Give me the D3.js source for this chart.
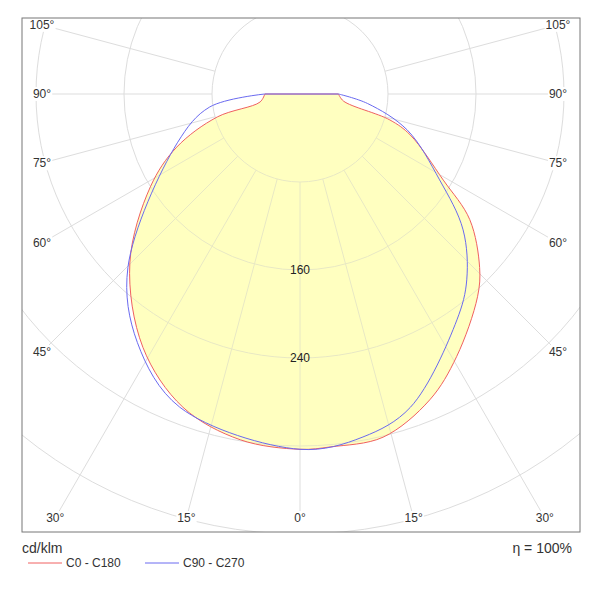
<!DOCTYPE html>
<html><head><meta charset="utf-8">
<script src="https://cdn.jsdelivr.net/npm/d3@7"></script>
<style>body{margin:0;background:#fff;font-family:Arial,"Liberation Sans",sans-serif}</style>
</head><body><svg id="c" width="600" height="600"></svg>
<script>
const redRightAngles=[0,5,13.6,23,30.8,41.2,46,53.5,59,69.6,73.9,80.8,90];
const redRightValues=[323,322,321,302,278,245,227,192,152,107,85,40,35];
const redLeftAngles=[0,9.8,20.5,31.8,45.2,58.2,66.7,74.5,78.7,90];
const redLeftValues=[323,319,304,271,218,160,122,78,37,32];
const blueRightAngles=[0,10.4,19.4,34.8,41.9,50.2,58.4,71.4,82,90];
const blueRightValues=[323,317,302,250,227,193,149,103,62,35];
const blueLeftAngles=[0,21,33.2,44.8,68.3,81.8,90];
const blueLeftValues=[323,305,270,222,120,83,32];
const ringValues=[80,160,240,320,400,480,560,640];
const ringLabels=[160,240];
const spokeAngles=[0,15,30,45,60,75,90,105];
const sideLabels=["105°","90°","75°","60°","45°"];
const bottomLabels=["30°","15°","0°","15°","30°"];

const svg=d3.select("#c");
const cx=300,cy=94,L=22,R=580,T=18,B=532;
const r=d3.scaleLinear().domain([0,80]).range([0,88]);
const pt=(a,v,side)=>{const t=a*Math.PI/180;return [cx+side*r(v)*Math.sin(t),cy+r(v)*Math.cos(t)];};
svg.append("clipPath").attr("id","cl").append("rect").attr("x",L).attr("y",T).attr("width",R-L).attr("height",B-T);
const grid=svg.append("g").attr("clip-path","url(#cl)");
const g=svg.append("g").attr("clip-path","url(#cl)");
const iL=42,iR=558,iB=518;
const labelPos=[];
function drawGrid(sel,col){
  ringValues.forEach(v=>sel.append("circle").attr("cx",cx).attr("cy",cy).attr("r",r(v)).attr("fill","none").attr("stroke",col));
  spokeAngles.forEach(a=>{
    [-1,1].forEach(side=>{
      if(a===0&&side===-1)return;
      const t=a*Math.PI/180,dx=Math.sin(t)*side,dy=Math.cos(t);
      let k=1e9;
      if(Math.abs(dx)>1e-6)k=Math.min(k,((side>0?iR:iL)-cx)/dx);
      if(dy>1e-6)k=Math.min(k,(iB-cy)/dy);
      const x2=cx+k*dx,y2=cy+k*dy,k0=r(80);
      sel.append("line").attr("x1",cx+k0*dx).attr("y1",cy+k0*dy).attr("x2",x2).attr("y2",y2).attr("stroke",col);
      if(col==="#dddddd")labelPos.push({a,x:x2,y:y2});
    });
  });
}
drawGrid(grid,"#dddddd");
function curve(ra,rv,la,lv){
  const pts=[];
  for(let i=la.length-1;i>=0;i--)pts.push(pt(la[i],lv[i],-1));
  for(let i=1;i<ra.length;i++)pts.push(pt(ra[i],rv[i],1));
  return pts;
}
const red=curve(redRightAngles,redRightValues,redLeftAngles,redLeftValues);
const blue=curve(blueRightAngles,blueRightValues,blueLeftAngles,blueLeftValues);
const line=d3.line().curve(d3.curveCatmullRom.alpha(0.5));
const shape=p=>line(p)+"Z";
g.append("path").attr("d",shape(red)).attr("fill","#ffffc0").attr("stroke","none");
const over=g.append("g").attr("clip-path",null);
over.append("clipPath").attr("id","rc").append("path").attr("d",shape(red));
drawGrid(over.append("g").attr("clip-path","url(#rc)"),"#e8e8c4");
g.append("path").attr("d",shape(red)).attr("fill","none").attr("stroke","#f06060").attr("stroke-width",1);
g.append("path").attr("d",shape(blue)).attr("fill","none").attr("stroke","#6a6af0").attr("stroke-width",1);
ringLabels.forEach(v=>svg.append("text").attr("x",cx).attr("y",cy+r(v)+4).attr("text-anchor","middle").attr("font-size",12).attr("fill","#222").text(v));
const lab=(x,y,t)=>{
  const tx=svg.append("text").attr("x",x).attr("y",y+4).attr("text-anchor","middle").attr("font-size",12).attr("fill","#333").text(t);
  const bb=tx.node().getBBox();
  svg.insert("rect","text").attr("x",bb.x-1).attr("y",bb.y).attr("width",bb.width+2).attr("height",bb.height).attr("fill","#fff");
};
labelPos.forEach(p=>{
  let t=null;
  if(p.y<iB-1){const idx=[105,90,75,60,45].indexOf(p.a); if(idx>=0)t=sideLabels[idx];}
  else {const idx=[30,15,0].indexOf(p.a); if(idx>=0)t=bottomLabels[p.x<cx?idx:4-idx];}
  if(t)lab(p.x,p.y,t);
});
svg.append("rect").attr("x",L).attr("y",T).attr("width",R-L).attr("height",B-T).attr("fill","none").attr("stroke","#777");
svg.append("text").attr("x",22).attr("y",553).attr("font-size",14).attr("fill","#333").text("cd/klm");
svg.append("text").attr("x",572).attr("y",553).attr("text-anchor","end").attr("font-size",14).attr("fill","#333").text("η = 100%");
svg.append("line").attr("x1",28).attr("x2",62).attr("y1",563).attr("y2",563).attr("stroke","#f06060");
svg.append("text").attr("x",66).attr("y",567).attr("font-size",12).attr("fill","#333").text("C0 - C180");
svg.append("line").attr("x1",145).attr("x2",179).attr("y1",563).attr("y2",563).attr("stroke","#6a6af0");
svg.append("text").attr("x",183).attr("y",567).attr("font-size",12).attr("fill","#333").text("C90 - C270");
</script></body></html>
